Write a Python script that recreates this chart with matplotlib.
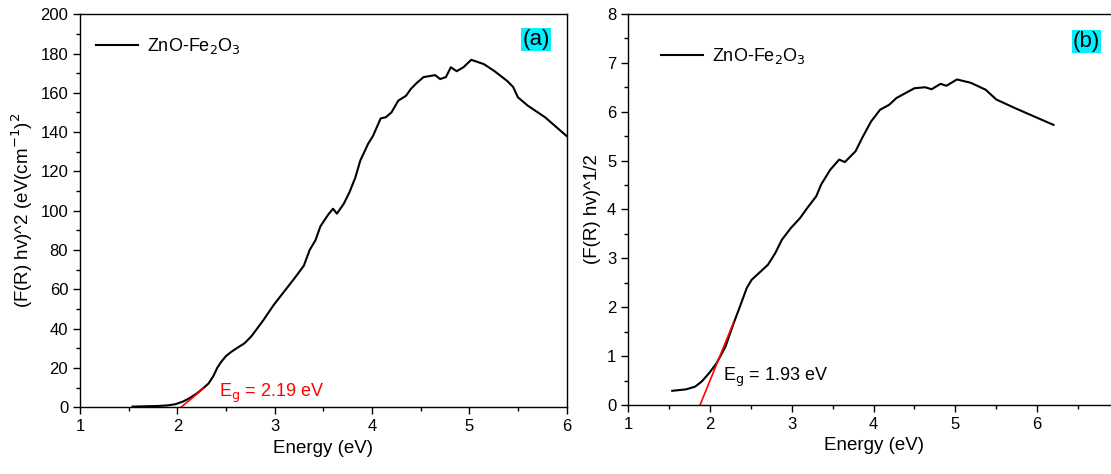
"""
Tauc plots for ZnO-Fe2O3: (a) direct and (b) indirect band gap
"""
import numpy as np
import matplotlib.pyplot as plt
from matplotlib.ticker import MultipleLocator

plt.rcParams['font.family'] = ['Liberation Sans', 'DejaVu Sans']

# --- Data ---
E_a = [1.54, 1.80, 1.90, 1.98, 2.06, 2.13, 2.20, 2.27, 2.32, 2.37, 2.41, 2.45, 2.50, 2.55,
       2.61, 2.69, 2.76, 2.88, 2.99,
       3.10, 3.21, 3.30, 3.36, 3.42, 3.47, 3.55, 3.60, 3.64, 3.71, 3.77, 3.83, 3.88,
       3.96, 4.01, 4.09, 4.14, 4.20, 4.27, 4.35, 4.40, 4.46, 4.53, 4.65, 4.70, 4.76,
       4.81, 4.87, 4.94, 5.02, 5.15, 5.26, 5.39, 5.45, 5.50, 5.60, 5.78, 6.00, 6.20]
F_a = [0.3, 0.6, 0.9, 1.5, 2.9, 4.7, 7.0, 9.8, 12.0, 15.8, 20.0, 23.0, 26.0, 28.0,
       30.0, 32.5, 36.0, 44.0, 52.0,
       59.0, 66.0, 72.0, 80.0, 85.0, 92.0, 98.0, 101.0, 98.5, 103.5, 109.5, 117.0, 125.5,
       134.0, 138.0, 147.0, 147.5, 150.0, 156.0, 158.5, 162.0, 165.0, 168.0, 169.0, 167.0, 168.0,
       173.0, 171.0, 173.0, 176.8, 174.6, 171.0, 166.0, 163.0, 157.7, 153.5, 147.5, 138.0, 131.0]

E_b = [1.54, 1.71, 1.82, 1.90, 1.99, 2.08, 2.19, 2.29, 2.36, 2.45, 2.51, 2.62, 2.71,
       2.80, 2.88, 2.99, 3.10, 3.19, 3.30, 3.36, 3.47, 3.58, 3.65, 3.78, 3.86, 3.97,
       4.08, 4.19, 4.28, 4.39, 4.50, 4.63, 4.71, 4.82, 4.89, 5.02, 5.19, 5.37, 5.50,
       5.72, 5.98, 6.20]
F_b = [0.29, 0.32, 0.375, 0.48, 0.65, 0.85, 1.19, 1.67, 1.98, 2.39, 2.56, 2.73, 2.87,
       3.11, 3.38, 3.62, 3.82, 4.03, 4.27, 4.51, 4.81, 5.02, 4.97, 5.19, 5.46, 5.80,
       6.04, 6.14, 6.28, 6.38, 6.48, 6.50, 6.46, 6.57, 6.53, 6.66, 6.59, 6.45, 6.25,
       6.08, 5.89, 5.73]

# tangent (linear fit) segments
fit_a_x = [2.04, 2.27]
fit_a_y = [0.0, 9.6]
fit_b_x = [1.88, 2.29]
fit_b_y = [0.0, 1.69]

label = r'ZnO-Fe$_2$O$_3$'

# --- Plot ---
fig = plt.figure(figsize=(11.11, 4.74), dpi=100)
ax_a = fig.add_axes([0.072, 0.141, 0.438, 0.829])
ax_b = fig.add_axes([0.5653, 0.1456, 0.4419, 0.825])


def style(ax, legend_xy):
    ax.tick_params(which='both', direction='out', top=False, right=False,
                   labelsize=12, width=1.0)
    ax.tick_params(which='major', length=5)
    ax.tick_params(which='minor', length=3)
    ax.xaxis.set_major_locator(MultipleLocator(1))
    ax.xaxis.set_minor_locator(MultipleLocator(0.5))
    for s in ax.spines.values():
        s.set_linewidth(1.0)
    ax.set_xlabel('Energy (eV)', fontsize=13.5)
    ax.legend(loc='upper left', frameon=False, fontsize=13, handlelength=2.3,
              handletextpad=0.5, bbox_to_anchor=legend_xy)


# (a)
ax_a.plot(E_a, F_a, color='black', lw=1.5, label=label)
ax_a.plot(fit_a_x, fit_a_y, color='red', lw=1.2)
ax_a.set_xlim(1, 6)
ax_a.set_ylim(0, 200)
ax_a.yaxis.set_major_locator(MultipleLocator(20))
ax_a.yaxis.set_minor_locator(MultipleLocator(10))
ax_a.set_ylabel(r'(F(R) hv)^2 (eV(cm$^{-1}$)$^2$', fontsize=13.5)
ax_a.text(2.43, 5, r'E$_\mathrm{g}$ = 2.19 eV', color='red', fontsize=13)
ax_a.text(0.965, 0.935, '(a)', transform=ax_a.transAxes, ha='right', va='center',
          fontsize=16, bbox=dict(boxstyle='square,pad=0.05', fc='#00f0ff', ec='none'))
style(ax_a, (0.0, 0.985))

# (b)
ax_b.plot(E_b, F_b, color='black', lw=1.5, label=label)
ax_b.plot(fit_b_x, fit_b_y, color='red', lw=1.2)
ax_b.set_xlim(1, 7)
ax_b.set_ylim(0, 8)
ax_b.yaxis.set_major_locator(MultipleLocator(1))
ax_b.yaxis.set_minor_locator(MultipleLocator(0.5))
ax_b.set_ylabel('(F(R) hv)^1/2', fontsize=13.5)
ax_b.text(2.16, 0.5, r'E$_\mathrm{g}$ = 1.93 eV', color='black', fontsize=13)
ax_b.text(0.962, 0.93, '(b)', transform=ax_b.transAxes, ha='right', va='center',
          fontsize=16, bbox=dict(boxstyle='square,pad=0.05', fc='#00f0ff', ec='none'))
style(ax_b, (0.035, 0.96))

plt.savefig('out.png', dpi=100)
plt.close()
